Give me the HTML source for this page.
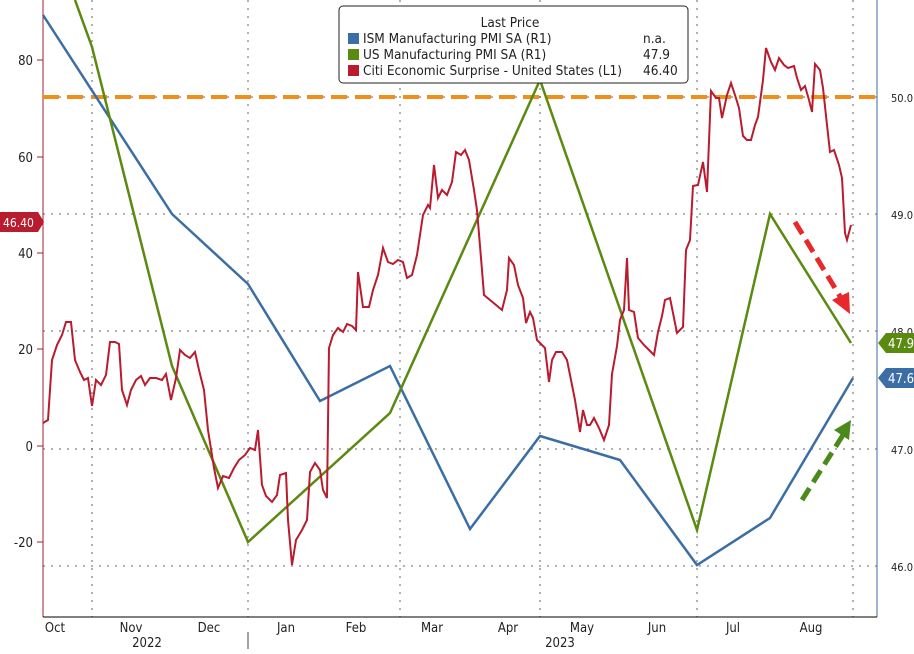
<!DOCTYPE html>
<html><head><style>
body{margin:0;background:#fff;}
svg text{font-family:"DejaVu Sans Condensed","Liberation Sans",sans-serif;}
</style></head><body>
<svg width="914" height="649" viewBox="0 0 914 649" xmlns="http://www.w3.org/2000/svg">
<rect width="914" height="649" fill="#fff"/>
<g stroke="#666" stroke-width="1" stroke-dasharray="2,6">
<line x1="43" y1="97" x2="877" y2="97"/><line x1="43" y1="214" x2="877" y2="214"/>
<line x1="43" y1="331" x2="877" y2="331"/><line x1="43" y1="449" x2="877" y2="449"/>
<line x1="43" y1="566" x2="877" y2="566"/>
<line x1="92" y1="0" x2="92" y2="617"/><line x1="248" y1="0" x2="248" y2="617"/>
<line x1="400" y1="0" x2="400" y2="617"/><line x1="540" y1="0" x2="540" y2="617"/>
<line x1="697" y1="0" x2="697" y2="617"/><line x1="853" y1="0" x2="853" y2="617"/>
</g>
<line x1="43" y1="0" x2="43" y2="617" stroke="#a02030"/>
<line x1="877" y1="0" x2="877" y2="617" stroke="#3a6ea5"/>
<line x1="43" y1="617" x2="877" y2="617" stroke="#000"/>
<g stroke="#a02030"><line x1="37" y1="60" x2="43" y2="60"/><line x1="37" y1="157" x2="43" y2="157"/><line x1="37" y1="253" x2="43" y2="253"/><line x1="37" y1="349" x2="43" y2="349"/><line x1="37" y1="446" x2="43" y2="446"/><line x1="37" y1="542" x2="43" y2="542"/></g>
<g font-size="13" fill="#222" text-anchor="end">
<text x="33" y="65">80</text><text x="33" y="162">60</text><text x="33" y="258">40</text><text x="33" y="354">20</text><text x="33" y="451">0</text><text x="33" y="547">-20</text></g>
<g font-size="11" fill="#222"><text x="891" y="102">50.0</text><text x="891" y="219">49.0</text><text x="891" y="336">48.0</text><text x="891" y="454">47.0</text><text x="891" y="571">46.0</text></g>
<g font-size="13" fill="#222" text-anchor="middle">
<text x="55" y="632">Oct</text><text x="131" y="632">Nov</text><text x="209" y="632">Dec</text><text x="286" y="632">Jan</text><text x="356" y="632">Feb</text><text x="432" y="632">Mar</text><text x="508" y="632">Apr</text><text x="582" y="632">May</text><text x="657" y="632">Jun</text><text x="733" y="632">Jul</text><text x="811" y="632">Aug</text>
<text x="147" y="647">2022</text><text x="560" y="647">2023</text></g>
<line x1="248" y1="632" x2="248" y2="649" stroke="#444"/>
<line x1="43" y1="97" x2="877" y2="97" stroke="#f0901a" stroke-width="4" stroke-dasharray="16,8"/>
<polyline fill="none" stroke="#3a6ea5" stroke-width="2.5" points="43,15 172,214 248,284 320,401 390,366 470,529 540,436 620,460 697,565 770,518 853,378"/>
<polyline fill="none" stroke="#5a8a10" stroke-width="2.5" points="75,0 92,47 172,366 248,542 390,413 540,80 697,530 770,214 851,343"/>
<polyline fill="none" stroke="#b81c2e" stroke-width="2" points="43,423 48,420 52,360 57,345 62,335 66,322 71,322 75,360 80,372 84,380 88,378 92,406 96,380 101,385 106,375 110,342 115,342 119,344 122,390 127,405 131,390 136,380 141,376 145,385 150,378 156,378 162,380 166,374 171,400 176,378 180,350 185,355 190,358 195,352 199,370 204,390 208,430 214,468 218,488 223,476 229,478 234,468 239,460 245,455 250,448 255,450 258,430 262,485 266,496 272,502 277,495 280,475 286,473 288,520 292,565 296,540 302,530 307,520 310,472 315,463 320,470 323,490 327,498 329,348 333,335 338,328 343,332 347,324 352,326 356,330 358,272 363,307 369,307 373,290 378,275 383,248 388,262 393,264 398,260 403,262 407,278 412,275 417,255 423,215 428,205 430,208 434,165 438,198 442,190 447,195 452,182 456,152 461,155 465,150 469,160 474,190 477,210 481,258 484,295 490,300 496,305 502,310 507,290 509,258 514,265 518,285 523,298 526,323 530,312 533,318 537,340 542,345 545,348 549,382 552,360 556,352 562,352 567,360 571,380 575,400 580,432 583,410 587,425 590,425 594,418 599,428 604,440 609,425 612,374 617,346 620,320 624,310 627,258 629,310 634,312 638,338 644,345 649,350 654,355 658,332 662,316 665,300 670,298 677,333 683,327 686,250 690,240 693,186 698,185 703,162 707,192 711,91 716,98 719,98 722,118 727,95 731,83 735,95 739,108 743,136 747,140 751,140 755,125 758,117 763,80 766,48 771,62 775,70 779,58 784,65 788,68 794,66 797,78 801,90 805,86 809,100 812,112 815,64 820,70 823,88 827,125 830,152 834,150 839,165 842,178 845,233 847,240 851,225"/>
<line x1="795" y1="222" x2="841" y2="298" stroke="#e8282a" stroke-width="5" stroke-dasharray="14,7"/>
<polygon points="850,314 832,300 849,292" fill="#e8282a"/>
<line x1="802" y1="500" x2="843" y2="435" stroke="#4a8a1a" stroke-width="5" stroke-dasharray="14,7"/>
<polygon points="851,420 834,430 849,440" fill="#4a8a1a"/>
<polygon points="0,212 38,212 44,222 38,232 0,232" fill="#b81c2e"/>
<text x="3" y="227" font-size="12" fill="#fff">46.40</text>
<polygon points="878,343 886,333 914,333 914,353 886,353" fill="#5a8a10"/>
<text x="888" y="348" font-size="13" fill="#fff">47.9</text>
<polygon points="878,378 886,368 914,368 914,388 886,388" fill="#3a6ea5"/>
<text x="888" y="383" font-size="13" fill="#fff">47.6</text>
<rect x="339" y="6" width="349" height="77" rx="4" fill="#fff" stroke="#222"/>
<text x="510" y="27" font-size="13.5" fill="#222" text-anchor="middle">Last Price</text>
<rect x="348" y="33" width="11" height="11" fill="#3a6ea5"/>
<rect x="348" y="49" width="11" height="11" fill="#5a8a10"/>
<rect x="348" y="65" width="11" height="11" fill="#b81c2e"/>
<g font-size="13.5" fill="#222">
<text x="363" y="43">ISM Manufacturing PMI SA  (R1)</text>
<text x="363" y="59">US Manufacturing PMI SA  (R1)</text>
<text x="363" y="75">Citi Economic Surprise - United States  (L1)</text>
<text x="643" y="43">n.a.</text><text x="643" y="59">47.9</text><text x="643" y="75">46.40</text></g>
</svg>
</body></html>
